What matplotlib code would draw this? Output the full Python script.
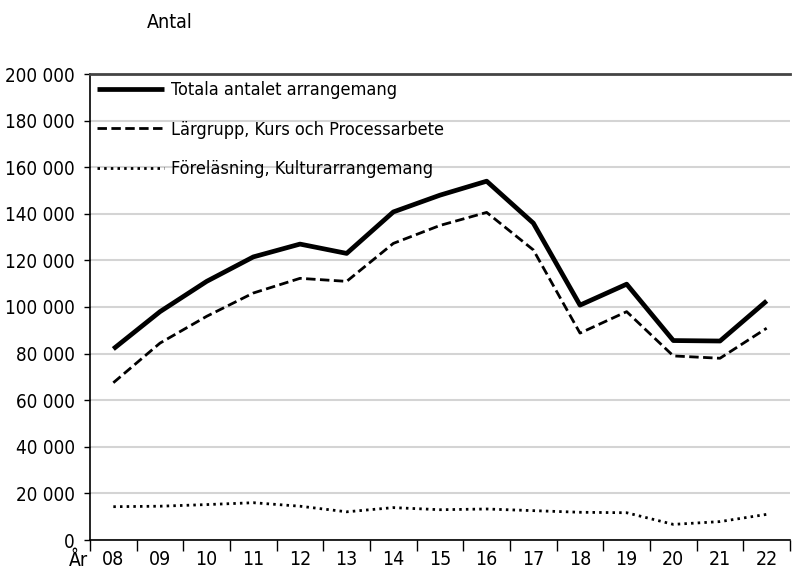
import numpy as np
import matplotlib.pyplot as plt
from matplotlib.ticker import FuncFormatter, FixedLocator

plt.rcParams['font.family'] = ['DejaVu Sans']
plt.rcParams['font.stretch'] = 'condensed'

years = ["08", "09", "10", "11", "12", "13", "14", "15", "16", "17", "18", "19", "20", "21", "22"]
totalt = [82000, 98000, 111000, 121500, 127000, 123000, 140800, 148000, 154000, 136000,
          100800, 109800, 85600, 85400, 102600]
largrupp = [67500, 84500, 96000, 106000, 112300, 111000, 127300, 135000, 140600, 124500,
            88800, 98000, 79000, 78000, 90900]
forelasning = [14300, 14500, 15200, 16000, 14500, 12100, 13900, 13000, 13300, 12600,
               11900, 11700, 6700, 7900, 11000]

FS = 14

fig = plt.figure(figsize=(7.92, 5.76), dpi=100)
ax = fig.add_axes([90 / 792, 1 - 540 / 576, 700 / 792, (540 - 74) / 576])

x = np.arange(len(years))
ax.plot(x, totalt, color='black', lw=3.4, solid_capstyle='butt', label='Totala antalet arrangemang')
ax.plot(x, largrupp, color='black', lw=2.0, dashes=(3.4, 1.6), label='Lärgrupp, Kurs och Processarbete')
ax.plot(x, forelasning, color='black', lw=2.0, dashes=(0.9, 1.5), label='Föreläsning, Kulturarrangemang')

ax.set_xlim(-0.5, len(years) - 0.5)
ax.set_ylim(0, 200000)
ax.set_yticks(np.arange(0, 200001, 20000))
ax.yaxis.set_major_formatter(FuncFormatter(lambda v, p: f"{int(v):,}".replace(",", " ")))
ax.grid(axis='y', color='#d4d4d4', lw=1.5)
ax.set_axisbelow(True)

# category axis: marks between categories, labels at centres
ax.xaxis.set_major_locator(FixedLocator(np.arange(-0.5, len(years), 1.0)))
ax.xaxis.set_minor_locator(FixedLocator(x))
ax.set_xticklabels([], minor=False)
ax.set_xticklabels(years, minor=True, fontsize=FS)
ax.tick_params(axis='x', which='major', length=8, width=1, direction='out')
ax.tick_params(axis='x', which='minor', length=0, pad=7)
ax.tick_params(axis='y', length=4, width=1, pad=7, labelsize=13.5)

ax.spines['right'].set_visible(False)
ax.spines['top'].set_color('#444444')
ax.spines['top'].set_linewidth(2)
ax.spines['left'].set_linewidth(1.2)
ax.spines['bottom'].set_linewidth(1.2)

leg = ax.legend(loc='upper left', frameon=False, fontsize=13, handlelength=3.7,
                handletextpad=0.4, labelspacing=1.18, borderaxespad=0.0, borderpad=0.4,
                bbox_to_anchor=(0.0, 1.0))

fig.text(170 / 792, 1 - 22 / 576, "Antal", fontsize=FS, ha='center', va='center')
fig.text(78 / 792, 1 - 560 / 576, "År", fontsize=FS, ha='center', va='center')

fig.savefig("out.png", dpi=100)
